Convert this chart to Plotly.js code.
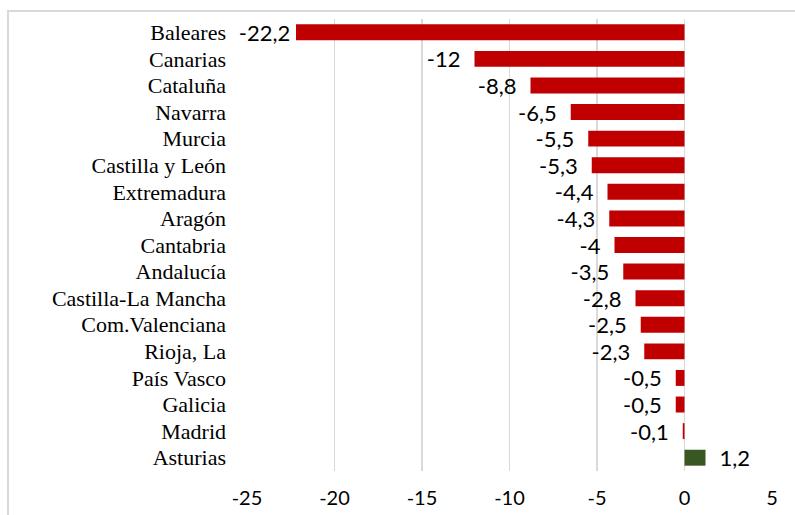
<!DOCTYPE html>
<html><head><meta charset="utf-8">
<script src="https://cdn.plot.ly/plotly-3.0.1.min.js"></script>
<style>
html,body{margin:0;padding:0;background:#fff;overflow:hidden}
#frame{position:absolute;left:7px;top:10px;width:800px;height:520px;border-left:2px solid #d9d9d9;border-top:2px solid #d9d9d9;pointer-events:none}
#chart{position:absolute;left:0;top:0;width:795px;height:515px}
</style></head>
<body>
<div id="chart"></div>
<div id="frame"></div>
<script>
const regions = ["Baleares","Canarias","Cataluña","Navarra","Murcia","Castilla y León","Extremadura","Aragón","Cantabria","Andalucía","Castilla-La Mancha","Com.Valenciana","Rioja, La","País Vasco","Galicia","Madrid","Asturias"];
const values = [-22.2,-12,-8.8,-6.5,-5.5,-5.3,-4.4,-4.3,-4,-3.5,-2.8,-2.5,-2.3,-0.5,-0.5,-0.1,1.2];
const xTicks = [-25,-20,-15,-10,-5,0,5];

const colors = values.map(v => v >= 0 ? "#385723" : "#C00000");
// label spacing: narrower gap when the bar nearly reaches the axis edge
const labels = values.map(v => {
  const s = String(v).replace(".", ",");
  if (v >= 0) return "\u2002" + s;
  return s + (v < -20 ? "\u2009" : "\u2002");
});

const trace = {
  type: "bar", orientation: "h",
  y: regions, x: values,
  marker: {color: colors},
  width: 0.6,
  text: labels, textposition: "outside", cliponaxis: false,
  constraintext: "none",
  textfont: {family: "Lato, Calibri, sans-serif", size: 22, color: "#000"},
  hoverinfo: "none"
};

const layout = {
  width: 795, height: 515,
  margin: {l: 247, r: 23, t: 19, b: 44},
  paper_bgcolor: "#fff", plot_bgcolor: "#fff",
  showlegend: false,
  xaxis: {
    range: [-25, 5], tickvals: xTicks, ticktext: xTicks.map(String),
    showgrid: true, gridcolor: "#d9d9d9", gridwidth: 1.5,
    zeroline: false, showline: false, ticks: "",
    ticklabelstandoff: 13,
    tickfont: {family: "Lato, Calibri, sans-serif", size: 20, color: "#000"}
  },
  yaxis: {
    autorange: "reversed", type: "category",
    showgrid: false, zeroline: false, showline: false, ticks: "",
    ticklabelstandoff: 20,
    tickfont: {family: "'Liberation Serif', 'Times New Roman', serif", size: 22, color: "#000"}
  }
};

Plotly.newPlot("chart", [trace], layout, {staticPlot: true, displayModeBar: false});
</script>
</body></html>
